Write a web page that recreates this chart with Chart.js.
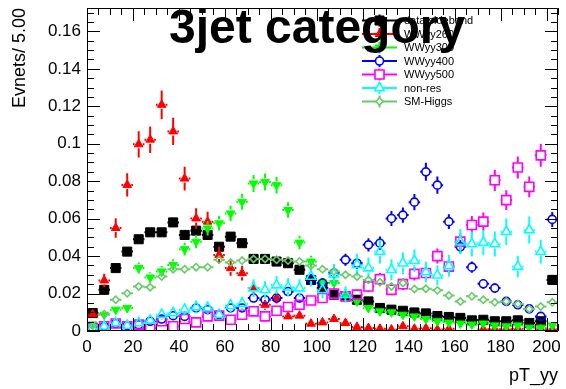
<!DOCTYPE html>
<html>
<head>
<meta charset="utf-8">
<style>
  html, body { margin: 0; padding: 0; background: #ffffff; }
  #wrap { width: 566px; height: 389px; }
</style>
<script src="https://cdn.jsdelivr.net/npm/chart.js@4.4.1/dist/chart.umd.min.js"></script>
</head>
<body>
<div id="wrap"><canvas id="c" width="566" height="389"></canvas></div>
<script>
// pT_yy distribution, 3jet category, normalised per 5 GeV bin
const binWidth = 5;
const binCenters = [2.5, 7.5, 12.5, 17.5, 22.5, 27.5, 32.5, 37.5, 42.5, 47.5,
  52.5, 57.5, 62.5, 67.5, 72.5, 77.5, 82.5, 87.5, 92.5, 97.5,
  102.5, 107.5, 112.5, 117.5, 122.5, 127.5, 132.5, 137.5, 142.5, 147.5,
  152.5, 157.5, 162.5, 167.5, 172.5, 177.5, 182.5, 187.5, 192.5, 197.5, 202.5];

const xTicks = [0, 20, 40, 60, 80, 100, 120, 140, 160, 180, 200];
const xTickLabels = ['0', '20', '40', '60', '80', '100', '120', '140', '160', '180', '200'];
const yTicks = [0, 0.02, 0.04, 0.06, 0.08, 0.1, 0.12, 0.14, 0.16];
const yTickLabels = ['0', '0.02', '0.04', '0.06', '0.08', '0.1', '0.12', '0.14', '0.16'];

const dataSideband = [0.0096, 0.022, 0.0336, 0.0424, 0.049, 0.0527, 0.0527, 0.058, 0.0513, 0.0536,
  0.0513, 0.045, 0.0504, 0.0469, 0.0385, 0.0385, 0.0371, 0.0362, 0.0327, 0.0273,
  0.0229, 0.0194, 0.0185, 0.0167, 0.0158, 0.0123, 0.0114, 0.0108, 0.0099, 0.0094,
  0.008, 0.0075, 0.007, 0.0057, 0.006, 0.0052, 0.0052, 0.0057, 0.0043, 0.0052, 0.0273];

const wwyy260 = [0.009, 0.027, 0.055, 0.078, 0.0997, 0.1022, 0.1208, 0.1066, 0.0814, 0.0601,
  0.0584, 0.0406, 0.0336, 0.0309, 0.0229, 0.014, 0.0176, 0.0078, 0.0082, 0.0039,
  0.0046, 0.0064, 0.0043, 0.0022, 0.0016, 0.0012, 0.0008, 0.0025, 0.0012, 0.0015,
  0.0008, 0.0012, null, null, 0.001, 0.001, 0.001, 0.0012, null, 0.0012, 0.001];

const wwyy300 = [0.0035, 0.0087, 0.0114, 0.0123, 0.0336, 0.0286, 0.0318, 0.0353, 0.0437, 0.0477,
  0.0548, 0.0575, 0.0628, 0.069, 0.0788, 0.0796, 0.0779, 0.0646, 0.0472, 0.0371,
  0.0259, 0.0256, 0.0194, 0.0158, 0.0123, 0.0105, 0.01, 0.0087, 0.0078, 0.0064,
  0.0052, 0.0045, 0.004, 0.0035, 0.004, 0.003, 0.0025, 0.003, 0.0018, 0.0018, 0.003];

const wwyy400 = [0.0016, 0.0025, 0.004, 0.0029, 0.0034, 0.0052, 0.0064, 0.0082, 0.0078, 0.0123,
  0.0114, 0.0087, 0.0123, 0.0123, 0.0176, 0.0167, 0.0176, 0.0211, 0.0176, 0.0277,
  0.0256, 0.031, 0.038, 0.0362, 0.046, 0.0469, 0.0601, 0.0619, 0.0688, 0.085,
  0.0779, 0.0584, 0.045, 0.0341, 0.0252, 0.0229, 0.0158, 0.014, 0.0118, 0.0078, 0.0596];

const wwyy500 = [0.0016, 0.0025, 0.004, 0.0025, 0.0034, 0.0016, 0.0052, 0.0025, 0.0064, 0.0046,
  0.0078, 0.0082, 0.006, 0.0087, 0.0105, 0.0078, 0.0108, 0.0128, 0.014, 0.0163,
  0.0176, 0.02, 0.0185, 0.0194, 0.0238, 0.0277, 0.022, 0.025, 0.0305, 0.031,
  0.04, 0.0344, 0.0477, 0.0566, 0.0584, 0.0805, 0.0699, 0.0873, 0.077, 0.0938, null];

const nonRes = [0.0016, 0.0025, 0.0043, 0.0029, 0.0043, 0.0057, 0.0087, 0.0096, 0.0114, 0.0128,
  0.0123, 0.0087, 0.0135, 0.0146, 0.0229, 0.022, 0.0245, 0.0234, 0.0229, 0.0291,
  0.022, 0.0304, 0.0194, 0.0353, 0.0336, 0.0424, 0.0327, 0.0362, 0.0375, 0.0315,
  0.0298, 0.0348, 0.0477, 0.0465, 0.0472, 0.0465, 0.053, 0.0344, 0.0539, 0.0424, null];

const smHiggs = [0.003, 0.009, 0.0167, 0.0201, 0.0238, 0.0234, 0.0291, 0.033, 0.033, 0.0341,
  0.0341, 0.038, 0.0366, 0.0376, 0.0385, 0.0385, 0.038, 0.0376, 0.0371, 0.035,
  0.033, 0.0318, 0.03, 0.0291, 0.0273, 0.026, 0.0238, 0.0256, 0.0224, 0.0226,
  0.0217, 0.019, 0.0158, 0.0185, 0.0167, 0.0153, 0.0158, 0.0144, 0.0118, 0.0131, 0.0153];

const seriesNames = ['data sideband', 'WWyy260', 'WWyy300', 'WWyy400', 'WWyy500', 'non-res', 'SM-Higgs'];
// per-event weight of each normalised sample; the stat. error of a bin is sqrt(value * weight)
const eventWeights = [0.000036, 0.00049, 0.00026, 0.00027, 0.0004, 0.00096, 0.000025];

const seriesValues = [dataSideband, wwyy260, wwyy300, wwyy400, wwyy500, nonRes, smHiggs];

const styles = [
  { color: '#000000', pointStyle: 'rect', radius: 6.4, rotation: 0, fill: true, gap: 4.5 },
  { color: '#ff0000', pointStyle: 'triangle', radius: 5, rotation: 0, fill: true, gap: 4 },
  { color: '#00ff00', pointStyle: 'triangle', radius: 5, rotation: 180, fill: true, gap: 4 },
  { color: '#0000ff', pointStyle: 'circle', radius: 4, rotation: 0, fill: false, gap: 4 },
  { color: '#ff00ff', pointStyle: 'rect', radius: 6.4, rotation: 0, fill: false, gap: 4.5 },
  { color: '#00ffff', pointStyle: 'triangle', radius: 5.5, rotation: 0, fill: false, gap: 4.5 },
  { color: '#66cc66', pointStyle: 'rectRot', radius: 3.6, rotation: 0, fill: false, gap: 3.6 }
];

const nSeries = seriesNames.length;
const datasets = seriesValues.map((vals, s) => ({
  label: seriesNames[s],
  data: binCenters.map((x, i) => ({ x: x, y: vals[i] })),
  showLine: false,
  pointStyle: styles[s].pointStyle,
  pointRadius: styles[s].radius,
  pointHoverRadius: styles[s].radius,
  pointRotation: styles[s].rotation,
  pointBackgroundColor: styles[s].fill ? styles[s].color : 'rgba(0,0,0,0)',
  pointBorderColor: styles[s].color,
  pointBorderWidth: styles[s].fill ? 1 : 1.6,
  borderColor: styles[s].color,
  backgroundColor: styles[s].color,
  order: nSeries - s,
  eventWeight: eventWeights[s],
  barGap: styles[s].gap
}));

// statistical error bars (vertical) and bin-width bars (horizontal), drawn under each marker set
const errorBars = {
  id: 'errorBars',
  beforeDatasetDraw(chart, args) {
    const ds = chart.data.datasets[args.index];
    const xs = chart.scales.x, ys = chart.scales.y;
    const ctx = chart.ctx, a = chart.chartArea;
    ctx.save();
    ctx.beginPath();
    ctx.rect(a.left, a.top, a.right - a.left, a.bottom - a.top);
    ctx.clip();
    ctx.strokeStyle = ds.borderColor;
    ctx.lineWidth = 2;
    ctx.beginPath();
    ds.data.forEach(p => {
      if (p.y === null || p.y === undefined) return;
      const cx = xs.getPixelForValue(p.x), cy = ys.getPixelForValue(p.y);
      const e = Math.sqrt(p.y * ds.eventWeight);
      const yTop = ys.getPixelForValue(p.y + e), yBot = ys.getPixelForValue(p.y - e);
      const xL = xs.getPixelForValue(p.x - binWidth / 2), xR = xs.getPixelForValue(p.x + binWidth / 2);
      const g = ds.barGap;
      if (cy - yTop > g) {
        ctx.moveTo(cx, yTop); ctx.lineTo(cx, cy - g);
        ctx.moveTo(cx, cy + g); ctx.lineTo(cx, yBot);
      }
      if (cx - xL > g) {
        ctx.moveTo(xL, cy); ctx.lineTo(cx - g, cy);
        ctx.moveTo(cx + g, cy); ctx.lineTo(xR, cy);
      }
    });
    ctx.stroke();
    ctx.restore();
  }
};

// frame with inward ticks on all four sides, legend and category label
const decorations = {
  id: 'decorations',
  afterDatasetsDraw(chart) {
    const ctx = chart.ctx, a = chart.chartArea;
    const xs = chart.scales.x, ys = chart.scales.y;
    ctx.save();
    ctx.strokeStyle = '#000000';
    ctx.lineWidth = 1;
    ctx.beginPath();
    ctx.rect(a.left + 0.5, a.top + 0.5, a.right - a.left - 1, a.bottom - a.top - 1);
    // x ticks every 5, long ones at the labelled values
    for (let v = 0; v <= xs.max + 1e-9; v += binWidth) {
      const px = Math.round(xs.getPixelForValue(v)) + 0.5;
      const len = xTicks.includes(v) ? 13 : 7;
      ctx.moveTo(px, a.bottom); ctx.lineTo(px, a.bottom - len);
      ctx.moveTo(px, a.top); ctx.lineTo(px, a.top + len);
    }
    // y ticks every 0.005, long ones at the labelled values
    for (let k = 0; k * 0.005 <= ys.max + 1e-9; k++) {
      const v = k * 0.005;
      const py = Math.round(ys.getPixelForValue(v)) + 0.5;
      const len = (k % 4 === 0) ? 13 : 7;
      ctx.moveTo(a.left, py); ctx.lineTo(a.left + len, py);
      ctx.moveTo(a.right, py); ctx.lineTo(a.right - len, py);
    }
    ctx.stroke();

    // legend
    const lx0 = 362, lx1 = 397, lxm = 379.5, ltx = 404, ly0 = 20.5, ldy = 13.5;
    ctx.font = '11px "Liberation Sans", Arial, sans-serif';
    ctx.textBaseline = 'middle';
    ctx.textAlign = 'left';
    seriesNames.forEach((name, s) => {
      const y = ly0 + ldy * s;
      const st = styles[s];
      ctx.strokeStyle = st.color;
      ctx.lineWidth = 2;
      ctx.beginPath();
      ctx.moveTo(lx0, y); ctx.lineTo(lx1, y);
      ctx.moveTo(lxm, y - 6); ctx.lineTo(lxm, y + 6);
      ctx.stroke();
      ctx.fillStyle = st.fill ? st.color : '#ffffff';
      ctx.strokeStyle = st.color;
      ctx.lineWidth = st.fill ? 1 : 1.6;
      Chart.helpers.drawPoint(ctx, {
        pointStyle: st.pointStyle, radius: st.radius, rotation: st.rotation, borderWidth: ctx.lineWidth
      }, lxm, y);
      ctx.fillStyle = '#000000';
      ctx.fillText(name, ltx, y + 0.5);
    });

    // category label
    ctx.fillStyle = '#000000';
    ctx.font = 'bold 48px "Liberation Sans", Arial, sans-serif';
    ctx.textBaseline = 'alphabetic';
    ctx.textAlign = 'left';
    ctx.fillText('3jet category', 169, 43);
    ctx.restore();
  }
};

new Chart(document.getElementById('c'), {
  type: 'scatter',
  data: { datasets: datasets },
  plugins: [errorBars, decorations],
  options: {
    responsive: false,
    animation: false,
    events: [],
    layout: { padding: { left: 0, right: 1, top: 7, bottom: 0 } },
    plugins: { legend: { display: false }, tooltip: { enabled: false } },
    scales: {
      x: {
        type: 'linear', min: 0, max: 205,
        grid: { display: false, drawTicks: false },
        border: { display: false },
        afterBuildTicks: s => { s.ticks = xTicks.map(v => ({ value: v })); },
        afterFit: s => { s.height = 58; s.paddingLeft = 0; s.paddingRight = 0; },
        ticks: {
          autoSkip: false, maxRotation: 0, minRotation: 0, padding: 6,
          color: '#000000',
          font: { family: '"Liberation Sans", Arial, sans-serif', size: 17 },
          callback: (v, i) => xTickLabels[i]
        },
        title: {
          display: true, text: 'pT_yy', align: 'end', color: '#000000',
          font: { family: '"Liberation Sans", Arial, sans-serif', size: 18 },
          padding: { top: 0, bottom: 2 }
        }
      },
      y: {
        type: 'linear', min: 0, max: 0.1725,
        grid: { display: false, drawTicks: false },
        border: { display: false },
        afterBuildTicks: s => { s.ticks = yTicks.map(v => ({ value: v })); },
        afterFit: s => { s.width = 87; s.paddingTop = 0; s.paddingBottom = 0; },
        ticks: {
          autoSkip: false, padding: 6,
          color: '#000000',
          font: { family: '"Liberation Sans", Arial, sans-serif', size: 17 },
          callback: (v, i) => yTickLabels[i]
        },
        title: {
          display: true, text: 'Evnets/ 5.00', align: 'end', color: '#000000',
          font: { family: '"Liberation Sans", Arial, sans-serif', size: 18 },
          padding: { top: 9, bottom: 0 }
        }
      }
    }
  }
});
</script>
</body>
</html>
